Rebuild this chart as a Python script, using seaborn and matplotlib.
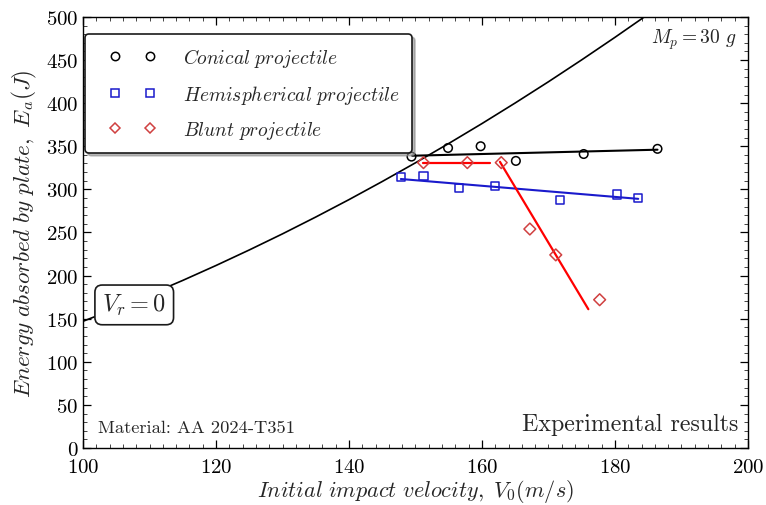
import numpy as np
import pandas as pd
import matplotlib
matplotlib.use("Agg")
import matplotlib.pyplot as plt
from matplotlib.lines import Line2D
from matplotlib.legend_handler import HandlerLine2D
from matplotlib.ticker import MultipleLocator
import seaborn as sns

# Conical projectile: test results and fitted trend
con_v = [149.4, 154.9, 159.8, 165.1, 175.3, 186.4]
con_e = [338, 348, 350, 333, 341, 347]
con_fit_v = [149.5, 186.4]
con_fit_e = [339, 346]

# Hemispherical projectile
hem_v = [147.8, 151.2, 156.6, 161.9, 171.7, 180.3, 183.4]
hem_e = [314, 315, 302, 304, 288, 294, 290]
hem_fit_v = [147.8, 183.5]
hem_fit_e = [312, 289]

# Blunt projectile: plateau then steep drop
blu_v = [151.2, 157.8, 162.9, 167.2, 171.1, 177.7]
blu_e = [331, 331, 331, 254, 224, 172]
blu_flat_v = [151.2, 161.2]
blu_flat_e = [331, 331]
blu_drop_v = [162.7, 176.0]
blu_drop_e = [332, 161]

# Ballistic limit curve (zero residual velocity)
vr0_v = [100, 105, 110, 115, 120, 125, 130, 135, 140, 145, 150, 155,
         160, 165, 170, 175, 180, 185]
vr0_e = [147.0, 162.1, 177.9, 194.4, 211.7, 229.7, 248.4, 267.9, 288.1,
         309.1, 330.8, 353.2, 376.3, 400.2, 424.8, 450.2, 476.3, 503.1]

x_ticks = [100, 120, 140, 160, 180, 200]
y_ticks = [0, 50, 100, 150, 200, 250, 300, 350, 400, 450, 500]

sns.set_style("ticks")
plt.rcParams.update({
    "font.family": "serif",
    "font.serif": ["cmr10", "DejaVu Serif"],
    "mathtext.fontset": "cm",
    "axes.formatter.use_mathtext": True,
    "axes.unicode_minus": False,
    "xtick.direction": "in",
    "ytick.direction": "in",
    "xtick.top": True,
    "ytick.right": True,
    "axes.edgecolor": "black",
    "axes.linewidth": 1.0,
})

fig = plt.figure(figsize=(7.66, 5.06), dpi=100)
ax = fig.add_axes([0.1084, 0.1126, 0.868, 0.852])

BLACK = "black"
BLUE = "#1a1acc"
RED_M = "#d04040"
RED_L = "#ff0000"

sns.lineplot(x=vr0_v, y=vr0_e, color=BLACK, lw=1.2, ax=ax, sort=False)
sns.lineplot(x=con_fit_v, y=con_fit_e, color=BLACK, lw=1.5, ax=ax)
sns.lineplot(x=hem_fit_v, y=hem_fit_e, color=BLUE, lw=1.5, ax=ax)
sns.lineplot(x=blu_flat_v, y=blu_flat_e, color=RED_L, lw=1.6, ax=ax)
sns.lineplot(x=blu_drop_v, y=blu_drop_e, color=RED_L, lw=1.6, ax=ax)

sns.scatterplot(x=con_v, y=con_e, marker="o", s=38, facecolor="none",
                edgecolor=BLACK, linewidth=1.1, ax=ax, zorder=4)
sns.scatterplot(x=hem_v, y=hem_e, marker="s", s=34, facecolor="none",
                edgecolor=BLUE, linewidth=1.1, ax=ax, zorder=4)
sns.scatterplot(x=blu_v, y=blu_e, marker="D", s=36, facecolor="none",
                edgecolor=RED_M, linewidth=1.1, ax=ax, zorder=4)

ax.set_xlim(100, 200)
ax.set_ylim(0, 500)
ax.set_xticks(x_ticks)
ax.set_yticks(y_ticks)
ax.xaxis.set_minor_locator(MultipleLocator(2))
ax.yaxis.set_minor_locator(MultipleLocator(10))
ax.tick_params(which="major", length=6, width=0.9, labelsize=15, colors=BLACK)
ax.tick_params(which="minor", length=3, width=0.6)
ax.tick_params(axis="x", pad=7)
for s in ax.spines.values():
    s.set_visible(True)
    s.set_color(BLACK)

ax.set_xlabel(r"$Initial\ impact\ velocity,\ V_0(m/s)$", fontsize=16, labelpad=1)
ax.set_ylabel(r"$Energy\ absorbed\ by\ plate,\ E_a(J)$", fontsize=16.7, labelpad=5)

handles = [
    Line2D([], [], ls="none", marker="o", ms=6, mfc="none", mec=BLACK, mew=1.1),
    Line2D([], [], ls="none", marker="s", ms=5.5, mfc="none", mec=BLUE, mew=1.1),
    Line2D([], [], ls="none", marker="D", ms=5.5, mfc="none", mec=RED_M, mew=1.1),
]
labels = [r"$Conical\ projectile$", r"$Hemispherical\ projectile$",
          r"$Blunt\ projectile$"]
leg = ax.legend(handles, labels, loc="upper left", bbox_to_anchor=(-0.006, 0.973),
                numpoints=2, fontsize=14, frameon=True, fancybox=True,
                shadow={"color": "0.55", "alpha": 0.6, "ox": 2, "oy": -2},
                framealpha=1, borderpad=0.6, labelspacing=0.7,
                handlelength=3.7, handletextpad=0.77, borderaxespad=0.3,
                handler_map={Line2D: HandlerLine2D(marker_pad=0.93, numpoints=2)})
leg.get_frame().set_edgecolor("0.1")
leg.get_frame().set_linewidth(1.2)

box = dict(boxstyle="round,pad=0.3", fc="white", ec="0.1", lw=1.2)
ax.text(107.7, 166, r"$V_r=0$", fontsize=17.5, ha="center", va="center",
        bbox=box, zorder=5)
ax.text(198.2, 475, r"$M_p=30\ g$", fontsize=14, ha="right", va="center")
ax.text(102.3, 15, "Material: AA 2024-T351", fontsize=13.3, ha="left",
        va="bottom")
ax.text(198.6, 15, "Experimental results", fontsize=17.2, ha="right",
        va="bottom")

fig.savefig("out.png", dpi=100)
